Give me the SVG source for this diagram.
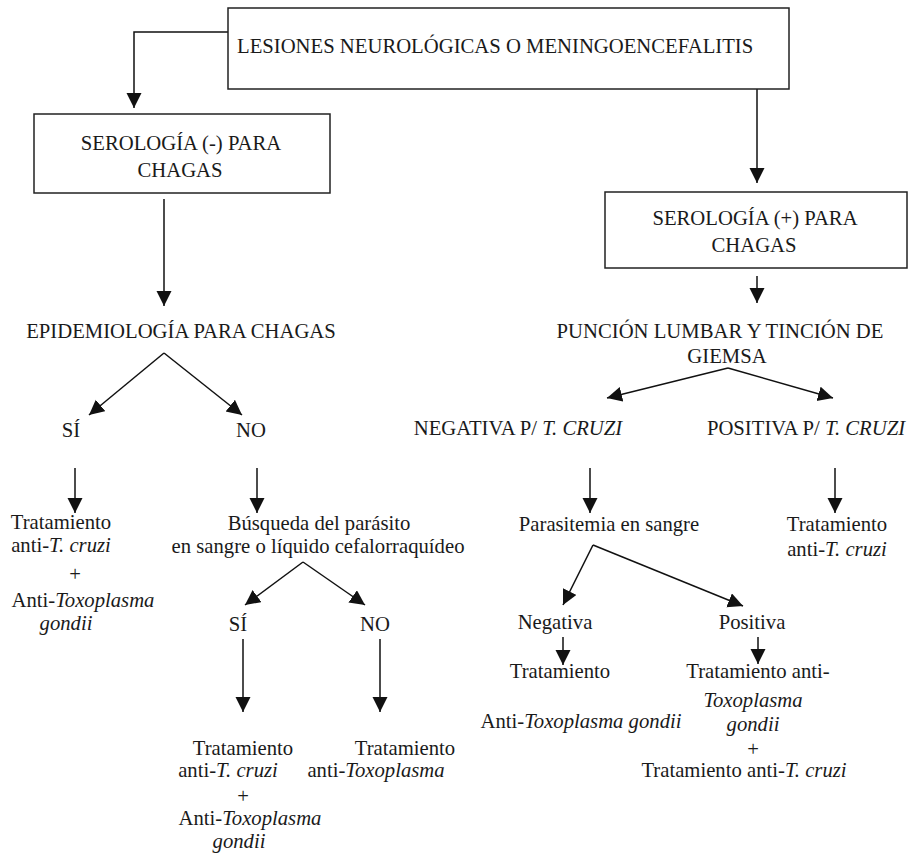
<svg xmlns="http://www.w3.org/2000/svg" width="910" height="856" viewBox="0 0 910 856">
<defs>
<marker id="ah" markerUnits="userSpaceOnUse" markerWidth="16" markerHeight="16" refX="15" refY="7.5" orient="auto">
<path d="M0,0 L15,7.5 L0,15 z" fill="#111"/>
</marker>
<style>
text{font-family:Liberation Serif,Tinos,Times New Roman,Times,Nimbus Roman,Noto Serif,FreeSerif,DejaVu Serif,serif;font-size:20.7px;fill:#1a1a1a}
.m{text-anchor:middle}
.i{font-style:italic}
.box{fill:#fff;stroke:#222;stroke-width:1.5}
.c{fill:none;stroke:#111;stroke-width:1.5;marker-end:url(#ah)}
</style>
</defs>
<rect width="910" height="856" fill="#fff"/>
<g id="connectors">
<path class="c" d="M228,32 H134 V108"/>
<path class="c" d="M757,89 V183"/>
<path class="c" d="M164,199 V306"/>
<path class="c" d="M757,276 V303"/>
<path class="c" d="M164,353 L89,415"/>
<path class="c" d="M164,353 L242,415"/>
<path class="c" d="M75,468 V513"/>
<path class="c" d="M257,468 V513"/>
<path class="c" d="M303,562 L245,605"/>
<path class="c" d="M303,562 L365,605"/>
<path class="c" d="M243,639 V712"/>
<path class="c" d="M380,639 V712"/>
<path class="c" d="M728,368 L607,398"/>
<path class="c" d="M728,368 L833,398"/>
<path class="c" d="M590,468 V513"/>
<path class="c" d="M835,468 V513"/>
<path class="c" d="M593,545 L563,605"/>
<path class="c" d="M593,545 L743,606"/>
<path class="c" d="M563,637 V665"/>
<path class="c" d="M758,637 V664"/>
</g>
<g id="n_lesiones">
<rect class="box" x="228" y="8" width="561" height="81"/>
<text x="237" y="53">LESIONES NEUROLÓGICAS O MENINGOENCEFALITIS</text>
</g>
<g id="n_serneg">
<rect class="box" x="34" y="114" width="296" height="79"/>
<text class="m" x="181" y="150">SEROLOGÍA (-) PARA</text>
<text class="m" x="180" y="177">CHAGAS</text>
</g>
<g id="n_serpos">
<rect class="box" x="605" y="192" width="302" height="76"/>
<text class="m" x="755" y="225">SEROLOGÍA (+) PARA</text>
<text class="m" x="754" y="252">CHAGAS</text>
</g>
<g id="n_epi">
<text class="m" x="181" y="338">EPIDEMIOLOGÍA PARA CHAGAS</text>
</g>
<g id="n_puncion">
<text class="m" x="720" y="338">PUNCIÓN LUMBAR Y TINCIÓN DE</text>
<text class="m" x="727" y="363">GIEMSA</text>
</g>
<g id="n_si1"><text class="m" x="71" y="437">SÍ</text></g>
<g id="n_no1"><text class="m" x="251" y="437">NO</text></g>
<g id="n_negativaP"><text class="m" x="518" y="435">NEGATIVA P/ <tspan class="i">T. CRUZI</tspan></text></g>
<g id="n_positivaP"><text class="m" x="806" y="435">POSITIVA P/ <tspan class="i">T. CRUZI</tspan></text></g>
<g id="n_trat1">
<text class="m" x="61" y="529">Tratamiento</text>
<text class="m" x="61" y="552">anti-<tspan class="i">T. cruzi</tspan></text>
<text class="m" x="75" y="581">+</text>
<text class="m" x="83" y="607">Anti-<tspan class="i">Toxoplasma</tspan></text>
<text class="m i" x="66" y="630">gondii</text>
</g>
<g id="n_busqueda">
<text class="m" x="319" y="530">Búsqueda del parásito</text>
<text class="m" x="318" y="553">en sangre o líquido cefalorraquídeo</text>
</g>
<g id="n_si2"><text class="m" x="238" y="631">SÍ</text></g>
<g id="n_no2"><text class="m" x="375" y="631">NO</text></g>
<g id="n_trat2">
<text class="m" x="243" y="755">Tratamiento</text>
<text class="m" x="228" y="777">anti-<tspan class="i">T. cruzi</tspan></text>
<text class="m" x="243" y="803">+</text>
<text class="m" x="250" y="825">Anti-<tspan class="i">Toxoplasma</tspan></text>
<text class="m i" x="239" y="848">gondii</text>
</g>
<g id="n_trat3">
<text class="m" x="405" y="755">Tratamiento</text>
<text class="m" x="376" y="777">anti-<tspan class="i">Toxoplasma</tspan></text>
</g>
<g id="n_parasitemia"><text class="m" x="609" y="531">Parasitemia en sangre</text></g>
<g id="n_trat4">
<text class="m" x="837" y="531">Tratamiento</text>
<text class="m" x="837" y="556">anti-<tspan class="i">T. cruzi</tspan></text>
</g>
<g id="n_negativa"><text class="m" x="555" y="629">Negativa</text></g>
<g id="n_positiva"><text class="m" x="752" y="629">Positiva</text></g>
<g id="n_trat5">
<text class="m" x="560" y="678">Tratamiento</text>
<text class="m" x="581" y="728">Anti-<tspan class="i">Toxoplasma gondii</tspan></text>
</g>
<g id="n_trat6">
<text class="m" x="758" y="678">Tratamiento anti-</text>
<text class="m i" x="753" y="707">Toxoplasma</text>
<text class="m i" x="753" y="731">gondii</text>
<text class="m" x="753" y="756">+</text>
<text class="m" x="744" y="777">Tratamiento anti-<tspan class="i">T. cruzi</tspan></text>
</g>
</svg>
